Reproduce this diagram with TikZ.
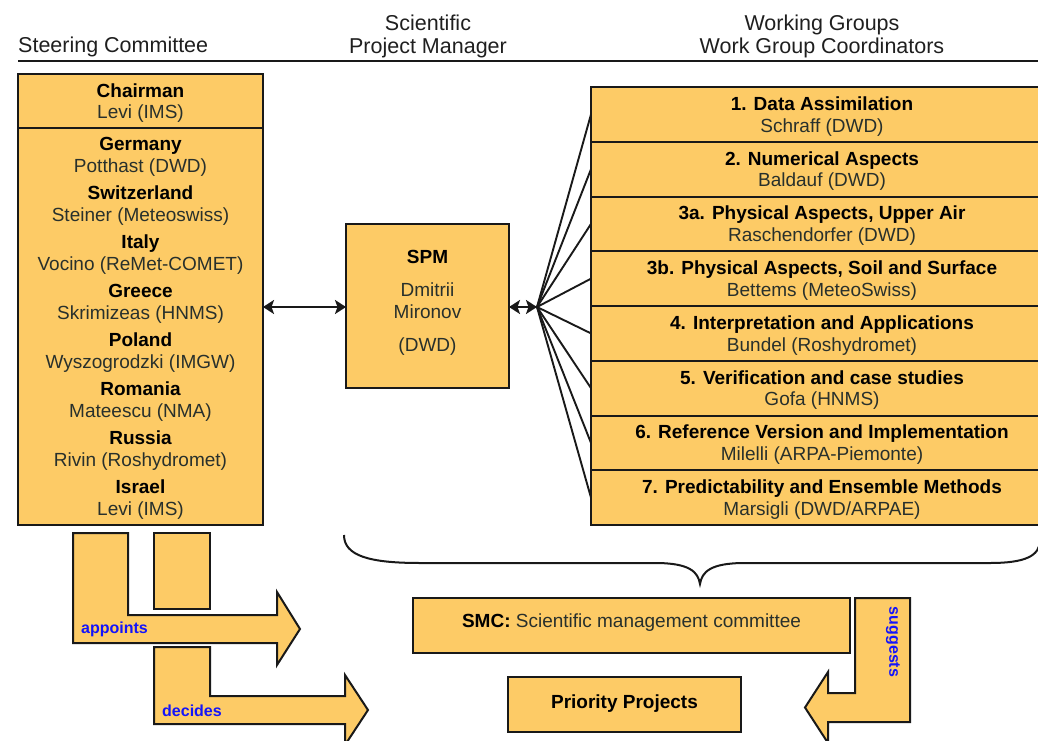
\documentclass[tikz,border=0pt]{standalone}
\usepackage{fontspec}
\setmainfont{Liberation Sans}
\usetikzlibrary{shapes,arrows,arrows.meta,positioning}
\definecolor{boxfill}{RGB}{253,203,102}
\definecolor{boxline}{RGB}{25,25,25}
\definecolor{namegray}{RGB}{40,48,44}
\definecolor{labelblue}{RGB}{20,20,250}
\newcommand{\boxtitle}[1]{{\color{black}\bfseries #1}}

\tikzset{
  orgbox/.style={draw=boxline, fill=boxfill, line width=2pt, outer sep=0pt, inner sep=0pt,
    align=center, text depth=0pt, font=\fontsize{19}{21.7}\selectfont, text=namegray},
  wgbox/.style={orgbox, minimum width=462pt, minimum height=54.75pt},
  bigarrow/.style={draw=boxline, fill=boxfill, line width=2pt, line join=miter},
  verb/.style={font=\fontsize{16}{18}\selectfont\bfseries, text=labelblue, inner sep=0pt},
  head/.style={font=\fontsize{21.5}{23}\selectfont, align=center, text=black!88, inner sep=0pt},
  link/.style={{Stealth[length=11pt,width=14pt,inset=2.5pt]}-{Stealth[length=11pt,width=14pt,inset=2.5pt]}, line width=2pt, boxline},
  fan/.style={line width=1.9pt, boxline},
}

\begin{document}
\begin{tikzpicture}[x=1pt,y=-1pt]
\useasboundingbox (0,0) rectangle (1038,741);
% headers
\node[head, anchor=west] (sctitle) at (18,47) {Steering Committee};
\node[head] (spmtitle) at (428,36) {Scientific\\Project Manager};
\node[head] (wgtitle) at (822,36) {Working Groups\\Work Group Coordinators};
\draw[line width=2.5pt, boxline] (18,61) -- (1038,61);
%============ steering committee
\node[orgbox, minimum width=245pt, minimum height=54pt] (chair) at (140.5,101) {\boxtitle{Chairman}\\Levi (IMS)};
\node[orgbox, minimum width=245pt, minimum height=397pt, below=0pt of chair] (members) {%
\boxtitle{Germany}\\Potthast (DWD)\\[5.6pt]
\boxtitle{Switzerland}\\Steiner (Meteoswiss)\\[5.6pt]
\boxtitle{Italy}\\Vocino (ReMet-COMET)\\[5.6pt]
\boxtitle{Greece}\\Skrimizeas (HNMS)\\[5.6pt]
\boxtitle{Poland}\\Wyszogrodzki (IMGW)\\[5.6pt]
\boxtitle{Romania}\\Mateescu (NMA)\\[5.6pt]
\boxtitle{Russia}\\Rivin (Roshydromet)\\[5.6pt]
\boxtitle{Israel}\\Levi (IMS)};
%============ project manager
\node[orgbox, minimum width=163pt, minimum height=164pt] (spm) at (427.5,306) {};
\node[orgbox, draw=none, fill=none] (spmtext) at ([yshift=5pt]spm.center) {\boxtitle{SPM}\\[11.3pt]Dmitrii\\Mironov\\[11.3pt](DWD)};
%============ working groups
\node[wgbox] (wg1) at (822,114.4) {\boxtitle{1. Data Assimilation}\\Schraff (DWD)};
\node[wgbox, below=0pt of wg1] (wg2) {\boxtitle{2. Numerical Aspects}\\Baldauf (DWD)};
\node[wgbox, below=0pt of wg2] (wg3) {\boxtitle{3a. Physical Aspects, Upper Air}\\Raschendorfer (DWD)};
\node[wgbox, below=0pt of wg3] (wg4) {\boxtitle{3b. Physical Aspects, Soil and Surface}\\Bettems (MeteoSwiss)};
\node[wgbox, below=0pt of wg4] (wg5) {\boxtitle{4. Interpretation and Applications}\\Bundel (Roshydromet)};
\node[wgbox, below=0pt of wg5] (wg6) {\boxtitle{5. Verification and case studies}\\Gofa (HNMS)};
\node[wgbox, below=0pt of wg6] (wg7) {\boxtitle{6. Reference Version and Implementation}\\Milelli (ARPA-Piemonte)};
\node[wgbox, below=0pt of wg7] (wg8) {\boxtitle{7. Predictability and Ensemble Methods}\\Marsigli (DWD/ARPAE)};
%============ links
\coordinate (hub) at (537,307);
\draw[link] (members.east |- hub) -- (spm.west |- hub);
\draw[link] (spm.east |- hub) -- (hub);
\draw[fan] (hub) -- (wg1.west);
\draw[fan] (hub) -- (wg2.west);
\draw[fan] (hub) -- (wg3.west);
\draw[fan] (hub) -- (wg4.west);
\draw[fan] (hub) -- (wg5.west);
\draw[fan] (hub) -- (wg6.west);
\draw[fan] (hub) -- (wg7.west);
\draw[fan] (hub) -- (wg8.west);
% brace under the groups
\draw[line width=2pt, boxline] (344,535) .. controls (344,556) and (370,563) .. (420,563) -- (655,563)
  .. controls (690,563) and (698,572) .. (700,584) .. controls (702,572) and (710,563) .. (745,563)
  -- (990,563) .. controls (1025,563) and (1040,556) .. (1040,540);
%============ committee and projects
\node[orgbox, minimum width=437pt, minimum height=55pt, text depth=9pt] (smc) at (631.5,625.5) {\boxtitle{SMC:} Scientific management committee};
\node[orgbox, minimum width=233pt, minimum height=55pt, text depth=5pt] (pp) at (624.5,704.5) {\boxtitle{Priority Projects}};
% big arrows
\draw[bigarrow] (73,533) -- (128,533) -- (128,615) -- (277,615) -- (277,592) -- (300,629) -- (277,665) -- (277,643) -- (73,643) -- cycle;
\draw[bigarrow] (154,533) rectangle (210,609);
\draw[bigarrow] (154,647) -- (210,647) -- (210,696) -- (345,696) -- (345,675) -- (368,710) -- (345,745) -- (345,724) -- (154,724) -- cycle;
\draw[bigarrow] (855,598) -- (910,598) -- (910,722) -- (828,722) -- (828,743) -- (805,707.5) -- (828,672) -- (828,693) -- (855,693) -- cycle;
\node[verb, anchor=west] (appoints) at (81,629) {appoints};
\node[verb, anchor=west] (decides) at (162,711) {decides};
\node[verb, rotate=-90] (suggests) at (893,642) {suggests};
\end{tikzpicture}
\end{document}
